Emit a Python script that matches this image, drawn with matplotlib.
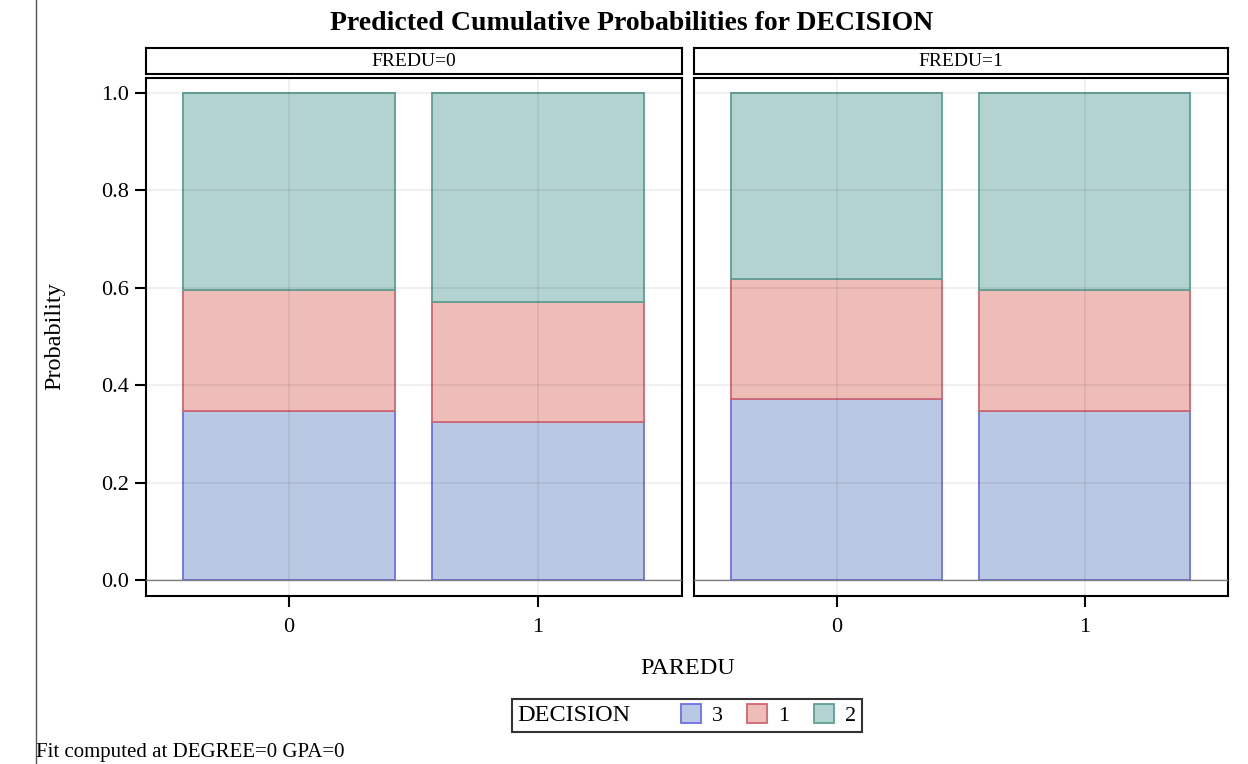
import matplotlib
matplotlib.use("Agg")
import matplotlib.pyplot as plt
from matplotlib.patches import Patch
from matplotlib.lines import Line2D
from matplotlib.offsetbox import HPacker

plt.rcParams['font.family'] = ['Liberation Serif', 'DejaVu Serif']

title = "Predicted Cumulative Probabilities for DECISION"
panels = ["FREDU=0", "FREDU=1"]
paredu = ["0", "1"]
# cumulative probabilities per panel, per PAREDU level
cum_3 = [[0.347, 0.325], [0.371, 0.348]]
cum_31 = [[0.595, 0.571], [0.619, 0.596]]
cum_312 = [[1.0, 1.0], [1.0, 1.0]]
levels = ["3", "1", "2"]
fills = ["#B9C8E3", "#EEBDB7", "#B3D3D0"]
edges = ["#6F6FE6", "#D06672", "#5E9F94"]
yticks = [0.0, 0.2, 0.4, 0.6, 0.8, 1.0]

W, H = 1248, 764
fig = plt.figure(figsize=(W / 100, H / 100), dpi=100)

def fx(px):
    return px / W

def fy(py):
    return 1 - py / H

panel_x = [(146, 682), (694, 1228)]
top_plot, bot_plot = 78, 596
strip_top, strip_bot = 48, 74

fig.text(fx(632), fy(24), title, ha='center', va='center', fontsize=20, fontweight='bold')

for pi, (x0, x1) in enumerate(panel_x):
    ax = fig.add_axes([fx(x0), fy(bot_plot), fx(x1 - x0), (bot_plot - top_plot) / H])
    xs = list(range(len(paredu)))
    width = 0.85
    lows = [[0] * len(xs), cum_3[pi], cum_31[pi]]
    highs = [cum_3[pi], cum_31[pi], cum_312[pi]]
    for li in range(3):
        hts = [h - l for h, l in zip(highs[li], lows[li])]
        ax.bar(xs, hts, bottom=lows[li], width=width, color=fills[li],
               edgecolor=edges[li], linewidth=1.3, zorder=2)
    ax.set_xlim(-0.575, 1.578)
    ax.set_ylim(-0.033, 1.031)
    ax.set_xticks(xs)
    ax.set_xticklabels(paredu, fontsize=16)
    ax.set_yticks(yticks)
    ax.grid(True, color='black', alpha=0.07, linewidth=1.2, zorder=3)
    ax.set_axisbelow(False)
    ax.axhline(0, color='#808080', linewidth=1, zorder=4)
    ax.tick_params(axis='x', length=8, width=1.5, pad=8)
    if pi == 0:
        ax.set_yticklabels([f"{v:.1f}" for v in yticks], fontsize=16)
        ax.tick_params(axis='y', length=8, width=1.5, pad=4)
    else:
        ax.tick_params(axis='y', left=False, labelleft=False)
    for s in ax.spines.values():
        s.set_linewidth(1.5)
        s.set_color('black')
    # strip
    sax = fig.add_axes([fx(x0), fy(strip_bot), fx(x1 - x0), (strip_bot - strip_top) / H])
    sax.set_xticks([])
    sax.set_yticks([])
    for s in sax.spines.values():
        s.set_linewidth(1.5)
        s.set_color('black')
    sax.text(0.5, 0.5, panels[pi], transform=sax.transAxes, ha='center', va='center', fontsize=14)

fig.text(fx(688), fy(668), "PAREDU", ha='center', va='center', fontsize=17.5)
fig.text(fx(55), fy(336), "Probability", ha='center', va='center', fontsize=17.5, rotation=90)
fig.text(fx(36), fy(752), "Fit computed at DEGREE=0 GPA=0", ha='left', va='center', fontsize=15)

fig.add_artist(Line2D([fx(36), fx(36)], [0, 1], color='#555555', linewidth=1))

handles = [Patch(facecolor=f, edgecolor=e, linewidth=1.3) for f, e in zip(fills, edges)]
leg = fig.legend(handles, levels, loc='center', bbox_to_anchor=(fx(687), fy(715)),
                 ncol=3, title="DECISION", fontsize=16, title_fontsize=17.5,
                 frameon=True, fancybox=False, edgecolor='black',
                 handlelength=0.9, handleheight=0.9, handletextpad=0.5, columnspacing=1.1,
                 borderpad=0.25)
leg.get_frame().set_linewidth(1.5)
title_box = leg._legend_title_box
handle_box = leg._legend_handle_box
leg._legend_box._children = [HPacker(pad=0, sep=36, children=[title_box, handle_box], align='baseline')]

fig.savefig("out.png", dpi=100)
